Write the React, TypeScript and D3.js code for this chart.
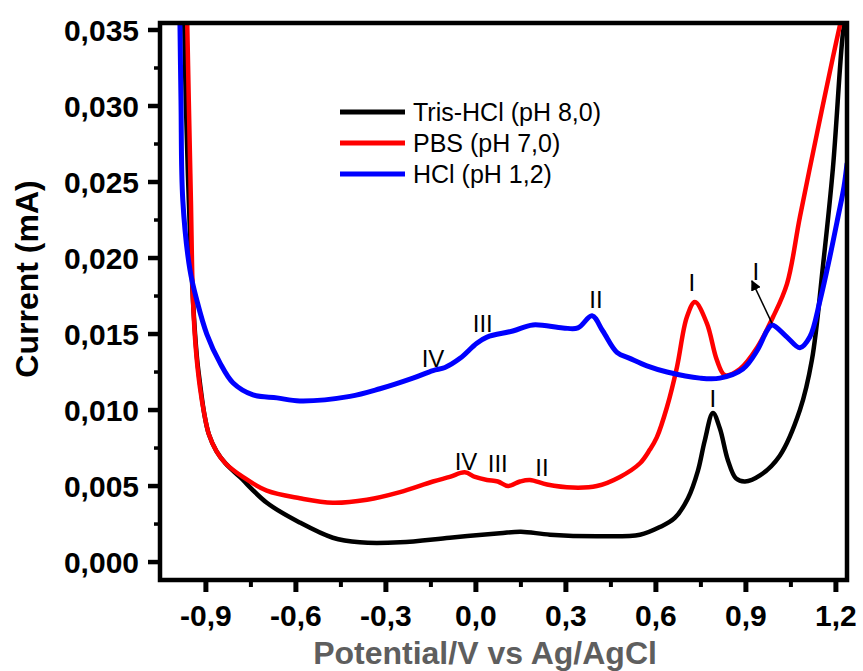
import React from "react";
import * as d3 from "d3";

// ---- data (potential V, current mA) ----
const trisV = [-0.973, -0.967, -0.957, -0.943, -0.93, -0.92, -0.905, -0.89, -0.865, -0.835, -0.787, -0.697, -0.587, -0.477, -0.387, -0.253, -0.087, 0.08, 0.15, 0.247, 0.413, 0.547, 0.613, 0.663, 0.707, 0.74, 0.763, 0.79, 0.813, 0.84, 0.867, 0.897, 0.947, 1.013, 1.08, 1.12, 1.157, 1.19, 1.223, 1.233];
const trisI = [0.0362, 0.0303, 0.0238, 0.0172, 0.0135, 0.0118, 0.0097, 0.0084, 0.0073, 0.0065, 0.0056, 0.0039, 0.0026, 0.0016, 0.0013, 0.0013, 0.0016, 0.0019, 0.002, 0.0018, 0.0017, 0.0018, 0.0023, 0.0029, 0.0042, 0.006, 0.008, 0.0098, 0.0088, 0.0067, 0.0055, 0.0053, 0.0057, 0.007, 0.01, 0.0133, 0.0195, 0.0259, 0.0347, 0.0359];

const pbsV = [-0.963, -0.957, -0.95, -0.943, -0.933, -0.92, -0.905, -0.89, -0.865, -0.835, -0.777, -0.697, -0.587, -0.477, -0.363, -0.253, -0.143, -0.087, -0.037, -0.003, 0.037, 0.073, 0.107, 0.147, 0.18, 0.237, 0.323, 0.403, 0.48, 0.547, 0.58, 0.603, 0.637, 0.67, 0.703, 0.73, 0.77, 0.803, 0.83, 0.88, 0.937, 0.99, 1.037, 1.08, 1.137, 1.19, 1.22];
const pbsI = [0.0362, 0.0303, 0.0238, 0.0172, 0.0139, 0.0115, 0.0097, 0.0084, 0.0073, 0.0065, 0.0056, 0.0047, 0.0042, 0.0039, 0.0041, 0.0046, 0.0053, 0.0056, 0.0059, 0.0056, 0.0054, 0.0053, 0.005, 0.0053, 0.0054, 0.0051, 0.0049, 0.005, 0.0056, 0.0065, 0.0074, 0.0082, 0.0102, 0.0128, 0.0161, 0.0171, 0.0157, 0.0133, 0.0123, 0.0127, 0.0141, 0.0161, 0.0183, 0.0227, 0.0282, 0.0332, 0.0359];

const hclV = [-0.987, -0.983, -0.977, -0.953, -0.93, -0.897, -0.853, -0.81, -0.743, -0.663, -0.587, -0.42, -0.32, -0.21, -0.143, -0.103, -0.053, 0.003, 0.037, 0.123, 0.19, 0.29, 0.34, 0.387, 0.423, 0.47, 0.513, 0.57, 0.637, 0.747, 0.813, 0.89, 0.937, 0.97, 0.987, 1.037, 1.08, 1.113, 1.147, 1.18, 1.207, 1.227, 1.237];
const hclI = [0.0362, 0.0303, 0.0238, 0.0192, 0.0172, 0.015, 0.0131, 0.0118, 0.011, 0.0108, 0.0106, 0.0109, 0.0114, 0.0121, 0.0126, 0.0128, 0.0134, 0.0144, 0.0148, 0.0152, 0.0156, 0.0154, 0.0154, 0.0162, 0.0152, 0.0138, 0.0134, 0.0129, 0.0125, 0.0121, 0.0121, 0.0127, 0.0139, 0.0152, 0.0156, 0.0148, 0.0141, 0.0148, 0.0172, 0.0201, 0.0227, 0.0247, 0.0262];

const seriesNames = ["Tris-HCl (pH 8,0)", "PBS (pH 7,0)", "HCl (pH 1,2)"];
const seriesColors = ["#000000", "#ff0000", "#0000ff"];

const xTicks = [-0.9, -0.6, -0.3, 0, 0.3, 0.6, 0.9, 1.2];
const xMinor = [-0.75, -0.45, -0.15, 0.15, 0.45, 0.75, 1.05];
const yTicks = [0, 0.005, 0.01, 0.015, 0.02, 0.025, 0.03, 0.035];
const yMinor = [0.0025, 0.0075, 0.0125, 0.0175, 0.0225, 0.0275, 0.0325];

// peak annotations: text, V, I
const peakText = ["I", "I", "I", "II", "III", "IV", "IV", "III", "II"];
const peakV = [0.72, 0.79, 0.933, 0.4, 0.023, -0.143, -0.033, 0.073, 0.22];
const peakI = [0.0184, 0.0108, 0.0191, 0.0173, 0.0157, 0.0134, 0.0066, 0.0065, 0.0062];
const arrowV = [0.987, 0.92];
const arrowI = [0.0157, 0.0185];

const W = 863, H = 671;
const L = 160, R = 847, T = 23, B = 580;
const FONT = "'Liberation Sans', Arial, Helvetica, sans-serif";

export default function App() {
  const x = d3.scaleLinear().domain([-1.053, 1.237]).range([L, R]);
  const y = d3.scaleLinear().domain([-0.00118, 0.03546]).range([B, T]);
  const line = d3
    .line<[number, number]>()
    .x((d) => x(d[0]))
    .y((d) => y(d[1]))
    .curve(d3.curveCatmullRom.alpha(0.5));
  const series = [
    d3.zip(trisV, trisI) as [number, number][],
    d3.zip(pbsV, pbsI) as [number, number][],
    d3.zip(hclV, hclI) as [number, number][],
  ];
  const widths = [4.5, 4.5, 5];
  const fmtX = (v: number) => (Math.abs(v) < 1e-9 ? "0,0" : v.toFixed(1).replace(".", ","));
  const fmtY = (v: number) => v.toFixed(3).replace(".", ",");
  const legendY = [112, 143, 174];

  return (
    <svg width={W} height={H} style={{ position: "absolute", left: 0, top: 0, background: "#fff" }}>
      <defs>
        <clipPath id="plotClip">
          <rect x={L} y={T} width={R - L} height={B - T} />
        </clipPath>
        <marker id="arrowHead" viewBox="0 0 10 10" refX="9" refY="5" markerWidth="7" markerHeight="7" orient="auto">
          <path d="M0,0 L10,5 L0,10 Z" fill="#000" />
        </marker>
      </defs>
      <rect x={0} y={0} width={W} height={H} fill="#fff" />

      {/* curves */}
      <g clipPath="url(#plotClip)">
        {series.map((s, i) => (
          <path key={i} d={line(s) || ""} fill="none" stroke={seriesColors[i]} strokeWidth={widths[i]} strokeLinejoin="round" strokeLinecap="round" />
        ))}
      </g>

      {/* frame */}
      <rect x={L} y={T} width={R - L} height={B - T} fill="none" stroke="#000" strokeWidth={4.5} />

      {/* y ticks */}
      {yTicks.map((t) => (
        <g key={"y" + t}>
          <line x1={L - 12} x2={L} y1={y(t)} y2={y(t)} stroke="#000" strokeWidth={4.5} />
          <text x={139} y={y(t)} dy="0.36em" textAnchor="end" fontFamily={FONT} fontWeight="bold" fontSize={30} fill="#000">
            {fmtY(t)}
          </text>
        </g>
      ))}
      {yMinor.map((t) => (
        <line key={"ym" + t} x1={L - 6} x2={L} y1={y(t)} y2={y(t)} stroke="#000" strokeWidth={3.5} />
      ))}

      {/* x ticks */}
      {xTicks.map((t) => (
        <g key={"x" + t}>
          <line x1={x(t)} x2={x(t)} y1={B} y2={B + 12} stroke="#000" strokeWidth={5} />
          <text x={x(t)} y={626} textAnchor="middle" fontFamily={FONT} fontWeight="bold" fontSize={30} fill="#000">
            {fmtX(t)}
          </text>
        </g>
      ))}
      {xMinor.map((t) => (
        <line key={"xm" + t} x1={x(t)} x2={x(t)} y1={B} y2={B + 7} stroke="#000" strokeWidth={4} />
      ))}

      {/* axis titles */}
      <text x={485} y={664} textAnchor="middle" fontFamily={FONT} fontWeight="bold" fontSize={32} fill="#5e5e5e">
        Potential/V vs Ag/AgCl
      </text>
      <text transform="translate(38,279) rotate(-90)" textAnchor="middle" fontFamily={FONT} fontWeight="bold" fontSize={32} fill="#000">
        Current (mA)
      </text>

      {/* legend */}
      {seriesNames.map((n, i) => (
        <g key={n}>
          <line x1={340} x2={405} y1={legendY[i]} y2={legendY[i]} stroke={seriesColors[i]} strokeWidth={5} />
          <text x={413} y={legendY[i]} dy="0.35em" fontFamily={FONT} fontSize={25} fill="#000">
            {n}
          </text>
        </g>
      ))}

      {/* peak labels */}
      {peakText.map((p, i) => (
        <text key={"p" + i} x={x(peakV[i])} y={y(peakI[i])} dy="0.36em" textAnchor="middle" fontFamily={FONT} fontSize={24} fill="#000">
          {p}
        </text>
      ))}
      <line x1={x(arrowV[0])} y1={y(arrowI[0])} x2={x(arrowV[1])} y2={y(arrowI[1])} stroke="#000" strokeWidth={1.5} markerEnd="url(#arrowHead)" />
    </svg>
  );
}
